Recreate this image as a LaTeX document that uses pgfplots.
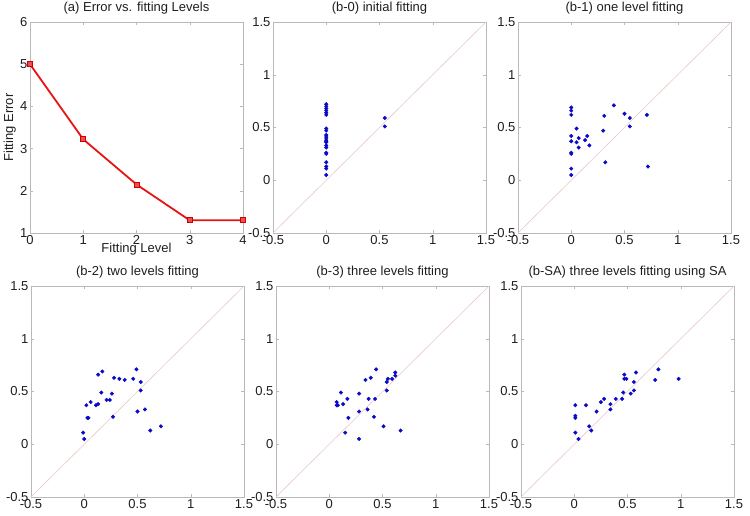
\documentclass[border=0pt]{standalone}
\usepackage{pgfplots}
\pgfplotsset{compat=1.18}
\usepackage{fontspec}
\setmainfont{Liberation Sans}
\definecolor{diag}{RGB}{235,200,200}
\definecolor{axgray}{RGB}{185,185,185}
\definecolor{txt}{RGB}{30,30,30}
\definecolor{dotblue}{RGB}{10,10,200}
\definecolor{linered}{RGB}{230,20,20}
\begin{document}
\begin{tikzpicture}
\path[use as bounding box] (0pt,0pt) rectangle (750pt,515pt);
\pgfplotsset{
  base/.style={scale only axis, width=213pt, height=211pt, anchor=south west,
    font=\fontsize{13}{15}\selectfont, text=txt,
    axis line style={axgray}, tick style={axgray}, tick align=inside,
    major tick length=3pt,
    /pgf/number format/assume math mode=true,
    xticklabel style={yshift=1pt}, yticklabel style={xshift=1pt},
    title style={at={(0.5,1)}, anchor=south, yshift=0pt, inner sep=2pt, font=\fontsize{13}{15}\selectfont},
    clip=false},
  sc/.style={base, xmin=-0.5, xmax=1.5, ymin=-0.5, ymax=1.5,
    xtick={-0.5,0,0.5,1,1.5}, ytick={-0.5,0,0.5,1,1.5},
    xticklabels={-0.5,0,0.5,1,1.5}, yticklabels={-0.5,0,0.5,1,1.5}},
  dots/.style={only marks, mark=*, mark size=1.8pt, color=dotblue},
  diagline/.style={color=diag, line width=0.6pt, no marks},
}
% (a)
\begin{axis}[base, at={(30pt,282pt)}, xmin=0, xmax=4, ymin=1, ymax=6,
  xtick={0,1,2,3,4}, ytick={1,2,3,4,5,6},
  title={(a) Error vs. fitting Levels},
  xlabel={Fitting Level}, ylabel={Fitting Error},
  xlabel style={at={(axis description cs:0.5,-0.075)}, anchor=center},
  ylabel style={at={(axis description cs:-0.095,0.5)}, anchor=center}]
\addplot[color=linered, line width=1.8pt, mark=square*, mark size=2.5pt,
  mark options={fill=linered!75!white, draw=red!80!black, line width=0.8pt}] coordinates {(0,5.0) (1,3.22) (2,2.15) (3,1.3) (4,1.3)};
\end{axis}
% (b-0)
\begin{axis}[sc, at={(273pt,282pt)}, title={(b-0) initial fitting}]
\addplot[diagline] coordinates {(-0.5,-0.5) (1.5,1.5)};
\addplot[dots] coordinates {(0,0.72) (0,0.70) (0,0.68) (0,0.66) (0,0.64) (0,0.62)
 (0,0.49) (0,0.47) (0,0.43) (0,0.42) (0,0.40) (0,0.38) (0,0.37) (0,0.36) (0,0.33) (0,0.31)
 (0,0.26) (0,0.25) (0,0.17) (0,0.13) (0,0.11) (0,0.05) (0.55,0.59) (0.55,0.51)};
\end{axis}
% (b-1)
\begin{axis}[sc, at={(518pt,282pt)}, title={(b-1) one level fitting}]
\addplot[diagline] coordinates {(-0.5,-0.5) (1.5,1.5)};
\addplot[dots] coordinates {(0,0.69) (0,0.66) (0,0.62) (0,0.42) (0,0.37) (0,0.26) (0,0.25)
 (0,0.11) (0,0.05) (0.05,0.49) (0.05,0.36) (0.07,0.40) (0.07,0.31) (0.13,0.38) (0.15,0.42)
 (0.17,0.33) (0.30,0.47) (0.31,0.61) (0.32,0.17) (0.40,0.71) (0.50,0.63) (0.55,0.59)
 (0.55,0.51) (0.71,0.62) (0.72,0.13)};
\end{axis}
% (b-2)
\begin{axis}[sc, at={(31pt,18pt)}, title={(b-2) two levels fitting}]
\addplot[diagline] coordinates {(-0.5,-0.5) (1.5,1.5)};
\addplot[dots] coordinates {(0.13,0.66) (0.17,0.69) (0.02,0.37) (0.06,0.40) (0.03,0.25)
 (0.04,0.25) (-0.01,0.11) (0.00,0.05) (0.11,0.37) (0.13,0.38) (0.16,0.49) (0.21,0.42)
 (0.24,0.42) (0.26,0.48) (0.27,0.26) (0.28,0.63) (0.33,0.62) (0.38,0.61) (0.46,0.62)
 (0.49,0.71) (0.53,0.59) (0.53,0.51) (0.50,0.31) (0.57,0.33) (0.62,0.13) (0.72,0.17)};
\end{axis}
% (b-3)
\begin{axis}[sc, at={(276pt,18pt)}, title={(b-3) three levels fitting}]
\addplot[diagline] coordinates {(-0.5,-0.5) (1.5,1.5)};
\addplot[dots] coordinates {(0.44,0.71) (0.62,0.68) (0.62,0.65) (0.39,0.63) (0.34,0.61)
 (0.55,0.62) (0.59,0.62) (0.54,0.59) (0.54,0.51) (0.11,0.49) (0.28,0.48) (0.07,0.40)
 (0.07,0.37) (0.08,0.37) (0.13,0.38) (0.17,0.43) (0.37,0.43) (0.43,0.43) (0.36,0.33)
 (0.28,0.31) (0.42,0.26) (0.18,0.25) (0.51,0.17) (0.67,0.13) (0.15,0.11) (0.28,0.05)};
\end{axis}
% (b-SA)
\begin{axis}[sc, at={(521pt,18pt)}, title={(b-SA) three levels fitting using SA}]
\addplot[diagline] coordinates {(-0.5,-0.5) (1.5,1.5)};
\addplot[dots] coordinates {(0.79,0.71) (0.58,0.68) (0.47,0.66) (0.47,0.62) (0.49,0.62)
 (0.76,0.61) (0.98,0.62) (0.56,0.59) (0.56,0.51) (0.46,0.49) (0.53,0.48) (0.39,0.43)
 (0.45,0.43) (0.28,0.43) (0.25,0.40) (0.34,0.38) (0.34,0.33) (0.11,0.37) (0.01,0.37)
 (0.21,0.31) (0.01,0.27) (0.01,0.25) (0.14,0.17) (0.16,0.13) (0.01,0.11) (0.04,0.05)};
\end{axis}
\end{tikzpicture}
\end{document}
